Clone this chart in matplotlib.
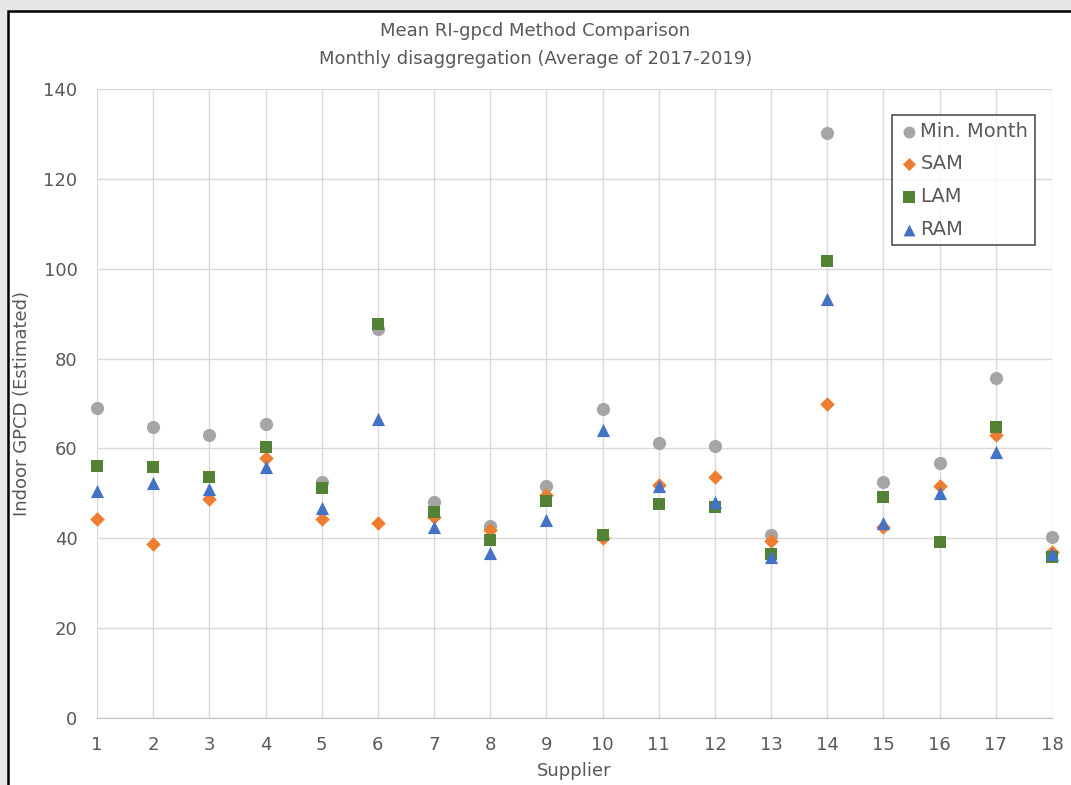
import matplotlib
matplotlib.use("Agg")
import matplotlib.pyplot as plt
from matplotlib.patches import Rectangle

# Supplier numbers on the x axis
suppliers = list(range(1, 19))

# Indoor GPCD estimates per method
min_month = [69.1, 64.7, 62.9, 65.5, 52.5, 86.5, 48.0, 42.8, 51.6, 68.8,
             61.2, 60.6, 40.7, 130.3, 52.5, 56.8, 75.6, 40.3]
sam = [44.3, 38.8, 48.8, 57.9, 44.3, 43.5, 44.8, 41.8, 49.6, 40.0,
       51.9, 53.6, 39.5, 69.9, 42.6, 51.7, 63.0, 37.0]
lam = [56.2, 55.8, 53.6, 60.3, 51.2, 87.8, 45.9, 39.6, 48.3, 40.7,
       47.6, 47.0, 36.6, 101.8, 49.1, 39.2, 64.7, 35.9]
ram = [50.6, 52.4, 51.0, 55.9, 46.7, 66.5, 42.5, 36.7, 44.0, 64.1,
       51.6, 48.1, 35.8, 93.2, 43.3, 50.0, 59.3, 36.5]

plt.rcParams['font.family'] = ['DejaVu Sans']
text_col = '#595959'
grid_col = '#d9d9d9'

W, H = 1071, 785
fig = plt.figure(figsize=(W / 100, H / 100), dpi=100)
fig.patch.set_facecolor('#e6e6e6')

# white chart area with a black frame on top/left (cropped right/bottom)
frame = Rectangle((8 / W, -0.05), 1.1, 1 - 11 / H + 0.05,
                  transform=fig.transFigure, facecolor='white',
                  edgecolor='black', linewidth=1.8, zorder=-10)
fig.patches.append(frame)

ax = fig.add_axes([97 / W, 1 - 718 / H, (1052 - 97) / W, (718 - 89) / H])
ax.set_zorder(5)
ax.set_facecolor('none')

ax.scatter(suppliers, min_month, marker='o', s=90, color='#a5a5a5', label='Min. Month',
           zorder=3, linewidths=0, clip_on=False)
ax.scatter(suppliers, sam, marker='D', s=55, color='#ed7d31', label='SAM',
           zorder=4, linewidths=0, clip_on=False)
ax.scatter(suppliers, lam, marker='s', s=80, color='#548235', label='LAM',
           zorder=5, linewidths=0, clip_on=False)
ax.scatter(suppliers, ram, marker='^', s=90, color='#4472c4', label='RAM',
           zorder=6, linewidths=0, clip_on=False)

ax.set_xlim(1, 18)
ax.set_ylim(0, 140)
ax.set_xticks(suppliers)
ax.set_yticks(range(0, 141, 20))
ax.grid(True, color=grid_col, linewidth=1)
ax.set_axisbelow(True)
for s in ['top', 'right', 'left']:
    ax.spines[s].set_visible(False)
ax.spines['bottom'].set_color('#bfbfbf')
ax.tick_params(length=0, labelsize=13, labelcolor=text_col)
ax.tick_params(axis='x', pad=13)
ax.tick_params(axis='y', pad=14)

ax.set_xlabel('Supplier', fontsize=13, color=text_col)
ax.xaxis.set_label_coords(0.5, -(762 - 718) / (718 - 89))
ax.set_ylabel('Indoor GPCD (Estimated)', fontsize=13, color=text_col)
ax.yaxis.set_label_coords(-(97 - 31) / (1052 - 97), 0.5)

fig.text(0.5, 1 - 31 / H, 'Mean RI-gpcd Method Comparison', ha='center', va='center',
         fontsize=13, color=text_col)
fig.text(0.5, 1 - 59 / H, 'Monthly disaggregation (Average of 2017-2019)', ha='center', va='center',
         fontsize=13, color=text_col)

leg = ax.legend(loc='upper right', bbox_to_anchor=((1035 - 97) / (1052 - 97), (718 - 115) / (718 - 89)),
                borderaxespad=0, fontsize=14, frameon=True, fancybox=False, handletextpad=0.1,
                borderpad=0.35, labelspacing=0.7, handlelength=1.0, labelcolor=text_col,
                markerscale=0.9)
leg.get_frame().set_edgecolor('#262626')
leg.get_frame().set_linewidth(1.2)

fig.savefig('out.png', dpi=100, facecolor=fig.get_facecolor())
